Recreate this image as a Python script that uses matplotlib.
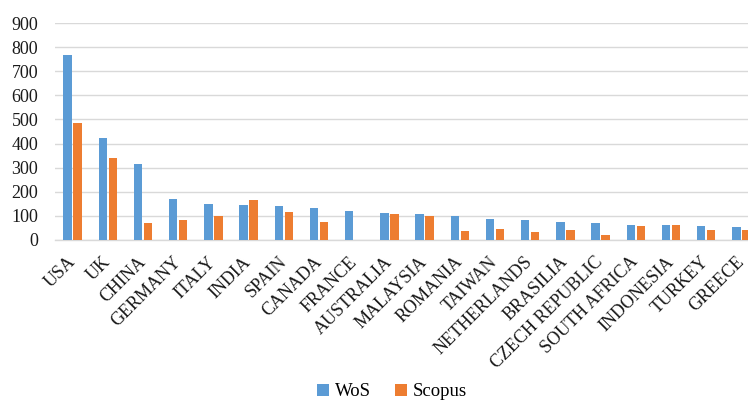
import matplotlib
matplotlib.use("Agg")
import matplotlib.pyplot as plt
import numpy as np

countries = ["USA", "UK", "CHINA", "GERMANY", "ITALY", "INDIA", "SPAIN", "CANADA",
             "FRANCE", "AUSTRALIA", "MALAYSIA", "ROMANIA", "TAIWAN", "NETHERLANDS",
             "BRASILIA", "CZECH REPUBLIC", "SOUTH AFRICA", "INDONESIA", "TURKEY", "GREECE"]
wos = [769, 425, 317, 172, 150, 145, 140, 132, 122, 114, 108, 99, 86, 85, 76, 69, 64, 64, 56, 53]
scopus = [485, 342, 72, 82, 101, 165, 116, 73, 0, 107, 99, 37, 44, 35, 40, 19, 57, 61, 42, 42]
y_ticks = [0, 100, 200, 300, 400, 500, 600, 700, 800, 900]

plt.rcParams["font.family"] = ["Liberation Serif", "DejaVu Serif"]

fig = plt.figure(figsize=(7.48, 4.0), dpi=100)
ax = fig.add_axes([55 / 748, 160 / 400, 704 / 748, 217 / 400])

x = np.arange(len(countries))
w = 0.24
off = 0.142
ax.bar(x - off, wos, width=w, color="#5B9BD5", label="WoS", zorder=3)
ax.bar(x + off, scopus, width=w, color="#ED7D31", label="Scopus", zorder=3)

ax.set_xlim(-0.5, len(countries) - 0.5)
ax.set_ylim(0, 900)
ax.set_yticks(y_ticks)
ax.set_yticklabels([str(v) for v in y_ticks], fontsize=13, color="#1a1a1a")
ax.yaxis.grid(True, color="#d9d9d9", linewidth=1.0, zorder=0)
ax.set_axisbelow(True)
ax.tick_params(axis="y", length=0, pad=12)
ax.tick_params(axis="x", length=0, pad=14)

ax.set_xticks(x)
ax.set_xticklabels(countries, rotation=45, ha="right", va="center",
                   rotation_mode="anchor", fontsize=13, color="#1a1a1a")

for side in ["top", "right", "left"]:
    ax.spines[side].set_visible(False)
ax.spines["bottom"].set_color("#d9d9d9")
ax.spines["bottom"].set_linewidth(1.0)

fig.legend(loc="center", bbox_to_anchor=(392 / 748, 1 - 392 / 400), ncol=2,
           frameon=False, fontsize=13.5, handlelength=0.65, handleheight=0.65,
           handletextpad=0.3, columnspacing=1.3)

fig.savefig("out.png", dpi=100)
